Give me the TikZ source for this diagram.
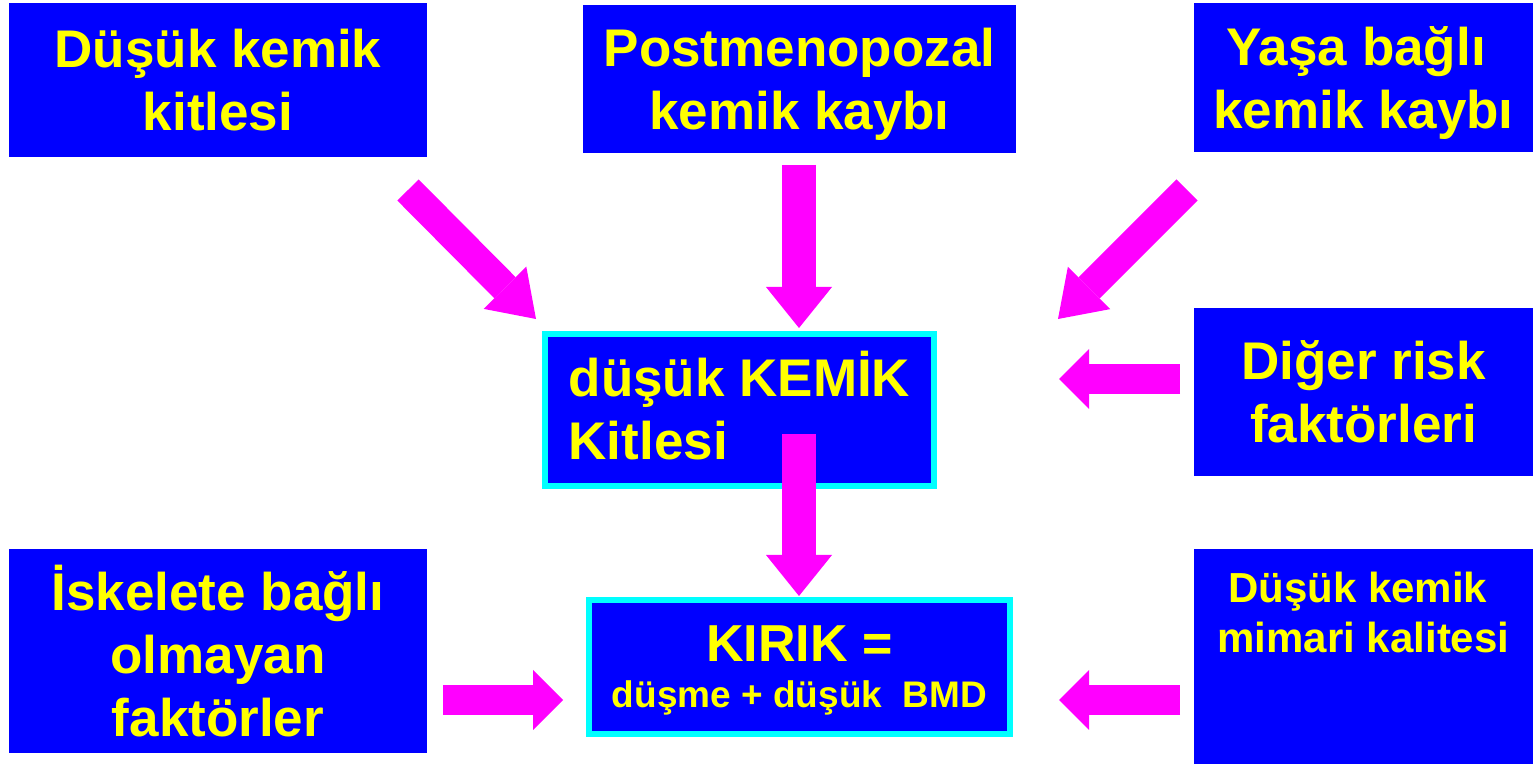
\documentclass[tikz,border=0pt]{standalone}
\usepackage{fontspec}
\setmainfont{Liberation Sans}
\usepackage{tikz}
\usetikzlibrary{arrows.meta}
\definecolor{blu}{RGB}{0, 0, 255}
\definecolor{yel}{RGB}{255, 255, 0}
\definecolor{mag}{RGB}{255, 0, 255}
\definecolor{aqua}{RGB}{0, 255, 255}

\begin{document}
\begin{tikzpicture}[x=0.5pt, y=-0.5pt,
  box/.style={fill=blu, text=yel, align=center, inner sep=0pt, text depth=0pt,
    font=\bfseries\fontsize{26.5}{31.5}\selectfont},
  rim/.style={box, draw=aqua, line width=3pt},
  pil/.style={draw=mag, line width=15pt, -{Triangle[length=22pt, width=30pt, line width=0pt]}},
  pilv/.style={draw=mag, line width=17pt, -{Triangle[length=20.5pt, width=33pt, line width=0pt]}},
  pilh/.style={draw=mag, line width=15pt, -{Triangle[length=15pt, width=30pt, line width=0pt]}}]
  \useasboundingbox (0, 0) rectangle (1533, 764);

  \node[box, minimum width=209pt, minimum height=77pt] (dusuk) at (218, 80) {Düşük kemik\\kitlesi};
  \node[box, minimum width=216.5pt, minimum height=74pt] (post) at (799.5, 79) {Postmenopozal\\kemik kaybı};
  \node[box, minimum width=169.5pt, minimum height=74.5pt] (yas) at (1363.5, 77.5) {Yaşa bağlı\hphantom{\ }\\kemik kaybı};
  \node[box, minimum width=169.5pt, minimum height=84pt] (diger) at (1363.5, 392) {Diğer risk\\faktörleri};
  \node[box, minimum width=209pt, minimum height=102pt] (iskelet) at (218, 651) {İskelete bağlı\\olmayan\\faktörler};
  \node[box, minimum width=169.5pt, minimum height=107.5pt, text depth=44.5pt,
    font=\bfseries\fontsize{21}{25}\selectfont] (mimari) at (1363.5, 656.5) {Düşük kemik\hphantom{\ }\\mimari kalitesi};

  \node[rim, align=left, minimum width=194.5pt, minimum height=76pt, text depth=5pt] (kemik) at (739.5, 410) {düşük KEMİK\\Kitlesi};
  \node[rim, minimum width=210.5pt, minimum height=67pt,
    font=\bfseries\fontsize{26}{23}\selectfont] (kirik) at (799.5, 667) {KIRIK =\\{\fontsize{18.5}{22}\selectfont düşme + düşük\ \ BMD}};

  % arrows
  \coordinate (a1) at (408, 190);  \coordinate (b1) at (536, 319);
  \coordinate (a2) at (799, 165);  \coordinate (b2) at (799, 328);
  \coordinate (a3) at (1187, 190); \coordinate (b3) at (1058, 319);
  \coordinate (a4) at (1180, 379); \coordinate (b4) at (1059, 379);
  \coordinate (a5) at (799, 434);  \coordinate (b5) at (799, 596);
  \coordinate (a6) at (443, 700);  \coordinate (b6) at (563, 700);
  \coordinate (a7) at (1180, 700); \coordinate (b7) at (1059, 700);

  \draw[pil] (a1) -- (b1);
  \draw[pilv] (a2) -- (b2);
  \draw[pil] (a3) -- (b3);
  \draw[pilh] (a4) -- (b4);
  \draw[pilv] (a5) -- (b5);
  \draw[pilh] (a6) -- (b6);
  \draw[pilh] (a7) -- (b7);
\end{tikzpicture}
\end{document}
